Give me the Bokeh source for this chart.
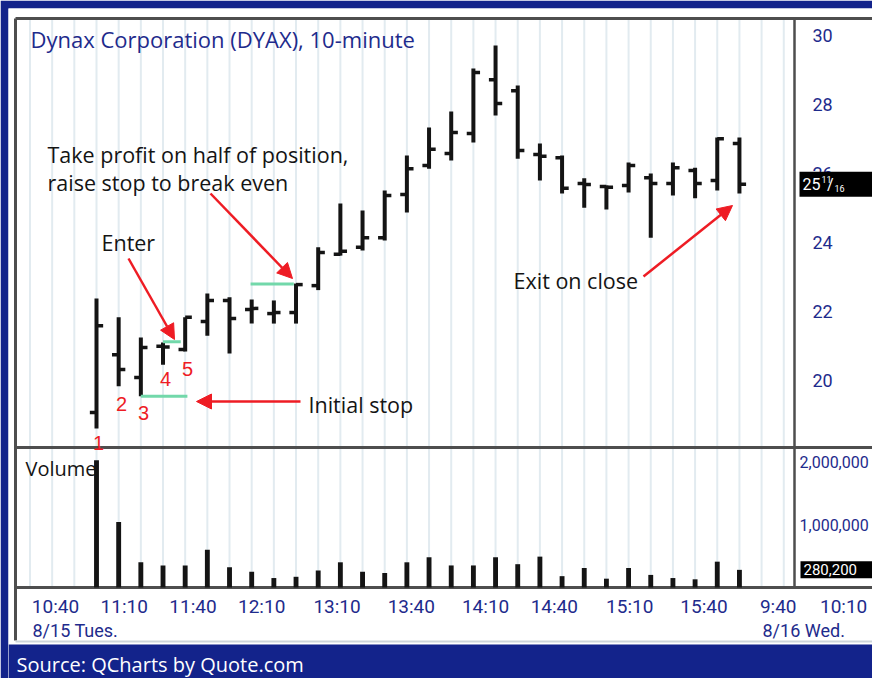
import numpy as np
from bokeh.plotting import figure
from bokeh.models import Range1d, Label, Arrow, NormalHead, BoxAnnotation
from bokeh.core.properties import value
from bokeh.embed import file_html
from bokeh.resources import INLINE

# ---------------- data ----------------
bar_index = list(range(30))
opens = [19.07, 20.75, 20.09, 20.99, 20.90, 21.71, 22.32, 22.06, 21.94, 21.97,
         22.75, 23.66, 23.86, 24.14, 25.39, 26.23, 26.58, 27.16, 28.72, 28.40,
         26.55, 26.46, 25.71, 25.62, 25.65, 25.88, 25.71, 26.09, 25.80, 26.87]
highs = [22.38, 21.83, 21.25, 21.10, 21.83, 22.52, 22.41, 22.35, 22.32, 22.81,
         23.86, 25.13, 24.93, 25.51, 26.52, 27.33, 27.80, 29.04, 29.71, 28.55,
         26.87, 26.52, 25.86, 25.65, 26.32, 26.00, 26.32, 26.17, 27.04, 27.04]
lows = [18.61, 19.83, 19.54, 20.46, 20.84, 21.30, 20.78, 21.65, 21.65, 21.65,
        22.62, 23.62, 23.77, 24.06, 24.87, 26.14, 26.38, 26.90, 27.68, 26.43,
        25.80, 25.42, 25.01, 24.96, 25.45, 24.14, 25.36, 25.28, 25.51, 25.42]
closes = [21.59, 20.32, 20.96, 20.97, 21.83, 22.32, 21.80, 22.09, 21.97, 22.78,
          23.71, 23.75, 24.14, 25.36, 26.14, 26.70, 27.19, 28.93, 28.03, 26.67,
          26.50, 25.57, 25.68, 25.60, 26.23, 25.71, 26.17, 25.71, 27.01, 25.6875]
volumes = [2020000, 1040000, 400000, 350000, 350000, 600000, 320000, 250000, 150000, 170000,
           270000, 400000, 250000, 230000, 400000, 480000, 350000, 350000, 480000, 370000,
           490000, 180000, 310000, 140000, 310000, 200000, 150000, 130000, 410000, 280200]

price_ticks = [20, 22, 24, 26, 28, 30]
volume_ticks = [1000000, 2000000]
volume_tick_labels = ["1,000,000", "2,000,000"]
time_tick_pos = [-1.85, 1.25, 4.35, 7.45, 10.85, 14.2, 17.55, 20.65, 24.05, 27.4, 30.75, 33.7]
time_tick_labels = ["10:40", "11:10", "11:40", "12:10", "13:10", "13:40",
                    "14:10", "14:40", "15:10", "15:40", "9:40", "10:10"]
date_labels = ["8/15 Tues.", "8/16 Wed."]
last_price_text = ("25", "11", "16")
last_volume_text = "280,200"

stop_levels = [19.54, 21.12, 22.80]          # initial stop, entry, break-even
bar_numbers = ["1", "2", "3", "4", "5"]

# ---------------- style ----------------
BLUE = "#1e2b8c"
FRAME_BLUE = "#13238b"
RED = "#ee1c24"
INK = "#141414"
GREEN = "#72d8aa"
LINE = "#4e4e4e"
GRID = "#e2ebf0"
LAB = "Roboto"
SANS = "Open Sans"

# page-pixel -> data helpers (for placing decorations / annotations only)
X0, DX = 96.0, 22.17       # px of bar 0, px per bar
P30, DP = 35.0, 34.5       # px of price 30, px per price unit
V0, DV = 587.0, 63.0       # px of zero volume, px per million shares


def X(px):
    return (px - X0) / DX


def P(py):
    return 30 - (py - P30) / DP


idx = np.array(bar_index, dtype=float)
TICK = 0.3

p = figure(frame_width=864, frame_height=670,
           min_border_left=8, min_border_right=0, min_border_top=8, min_border_bottom=0,
           x_range=Range1d(X(8), X(872)), y_range=Range1d(P(678), P(8)),
           output_backend="svg", toolbar_location=None,
           x_axis_location=None, y_axis_location=None,
           background_fill_color="white", border_fill_color=FRAME_BLUE,
           outline_line_color=None)
p.extra_y_ranges = {"vol": Range1d(-(678 - V0) / DV * 1e6, (V0 - 8) / DV * 1e6)}
p.xgrid.visible = False
p.ygrid.visible = False

# vertical grid (one line per bar slot)
slots = np.arange(-3, 32)
p.segment(x0=slots, y0=P(V0), x1=slots, y1=P(18), line_color=GRID, line_width=2)

# frame lines
right_edge = X(872)
p.segment(x0=[X(15), X(15), X(15), X(15)], y0=[P(18), P(447), P(V0), P(18)],
          x1=[right_edge, right_edge, right_edge, X(15)], y1=[P(18), P(447), P(V0), P(640)],
          line_color=LINE, line_width=3)
p.segment(x0=[X(794)], y0=[P(18)], x1=[X(794)], y1=[P(V0)], line_color=LINE, line_width=2.5)
p.segment(x0=[X(15)], y0=[P(641)], x1=[right_edge], y1=[P(641)], line_color="#cdd5da", line_width=2)

# price bars (OHLC)
p.segment(x0=idx, y0=lows, x1=idx, y1=highs, line_color=INK, line_width=4)
p.segment(x0=idx - TICK, y0=opens, x1=idx, y1=opens, line_color=INK, line_width=3.5)
p.segment(x0=idx, y0=closes, x1=idx + TICK, y1=closes, line_color=INK, line_width=3.5)

# volume
p.vbar(x=idx, top=volumes, bottom=0, width=0.22, y_range_name="vol",
       fill_color=INK, line_color=None)

# right-side tick labels
p.text(x=[X(812)] * len(price_ticks), y=price_ticks, text=[str(t) for t in price_ticks],
       text_font=value(LAB), text_font_size="18px", text_color=BLUE,
       text_align="left", text_baseline="middle")
p.text(x=[X(799)] * len(volume_ticks), y=volume_ticks, text=volume_tick_labels,
       y_range_name="vol", text_font=value(LAB), text_font_size="16px",
       text_color=BLUE, text_align="left", text_baseline="middle")

# time axis labels
p.text(x=time_tick_pos, y=[P(606)] * len(time_tick_pos), text=time_tick_labels,
       text_font=value(LAB), text_font_size="19px", text_color=BLUE,
       text_align="center", text_baseline="middle")
p.text(x=[X(32), X(762)], y=[P(630)] * 2, text=date_labels,
       text_font=value(LAB), text_font_size="18px", text_color=BLUE,
       text_align="left", text_baseline="middle")

# green stop lines
p.segment(x0=[2.0, 3.0, 6.95], y0=stop_levels, x1=[4.1, 3.8, 8.9], y1=stop_levels,
          line_color=GREEN, line_width=3)

# numbered bars
p.text(x=[X(98), X(121), X(143), X(165), X(187)],
       y=[P(442), P(403), P(412), P(378), P(368)],
       text=bar_numbers, text_font=value("Liberation Sans"), text_font_size="20px",
       text_color=RED, text_align="center", text_baseline="middle")

# title and notes
p.text(x=[X(30)], y=[P(38)], text=["Dynax Corporation (DYAX), 10-minute"],
       text_font=value(SANS), text_font_size="22px", text_color=BLUE,
       text_align="left", text_baseline="middle")
notes = ["Take profit on half of position,", "raise stop to break even", "Enter",
         "Initial stop", "Exit on close"]
p.text(x=[X(47), X(47), X(101), X(308), X(513)],
       y=[P(154), P(182), P(242), P(404), P(280)], text=notes,
       text_font=value(SANS), text_font_size="21.5px", text_color=INK,
       text_align="left", text_baseline="middle")
p.text(x=[X(25)], y=[P(468)], text=["Volume"],
       text_font=value(SANS), text_font_size="20px", text_color=INK,
       text_align="left", text_baseline="middle")

# arrows
for xs, ys, xe, ye in [((210), 193, 292, 278), (128, 258, 174, 339),
                       (300, 401, 196, 401), (643, 276, 732, 205)]:
    p.add_layout(Arrow(end=NormalHead(size=15, fill_color=RED, line_color=RED),
                       x_start=X(xs), y_start=P(ys), x_end=X(xe), y_end=P(ye),
                       line_color=RED, line_width=2.5))

# last price / last volume boxes
last_close = closes[-1]
last_vol = volumes[-1]
p.add_layout(BoxAnnotation(left=X(799), bottom=last_close - 0.365, top=last_close + 0.365,
                           fill_color="black", fill_alpha=1, line_color=None))
p.add_layout(Label(x=X(802), y=last_close, text=last_price_text[0], text_font=LAB,
                   text_font_size="16px", text_color="white", text_baseline="middle"))
p.add_layout(Label(x=X(821), y=last_close + 0.13, text=last_price_text[1], text_font=LAB,
                   text_font_size="9px", text_color="white", text_baseline="middle"))
p.add_layout(Label(x=X(826.5), y=last_close, text="/", text_font=LAB,
                   text_font_size="16px", text_color="white", text_baseline="middle"))
p.add_layout(Label(x=X(834), y=last_close - 0.12, text=last_price_text[2], text_font=LAB,
                   text_font_size="9px", text_color="white", text_baseline="middle"))
p.add_layout(BoxAnnotation(left=X(800), bottom=last_vol - 135000, top=last_vol + 135000,
                           y_range_name="vol", fill_color="black", fill_alpha=1, line_color=None))
p.add_layout(Label(x=X(803), y=last_vol, y_range_name="vol", text=last_volume_text,
                   text_font=LAB, text_font_size="15px", text_color="white",
                   text_baseline="middle"))

# source band
p.add_layout(BoxAnnotation(top=P(644), fill_color=FRAME_BLUE, fill_alpha=1, line_color=None))
p.add_layout(Label(x=X(16), y=P(664), text="Source: QCharts by Quote.com", text_font=SANS,
                   text_font_size="20px", text_color="white", text_baseline="middle"))

open("out.html", "w").write(file_html(p, INLINE))
